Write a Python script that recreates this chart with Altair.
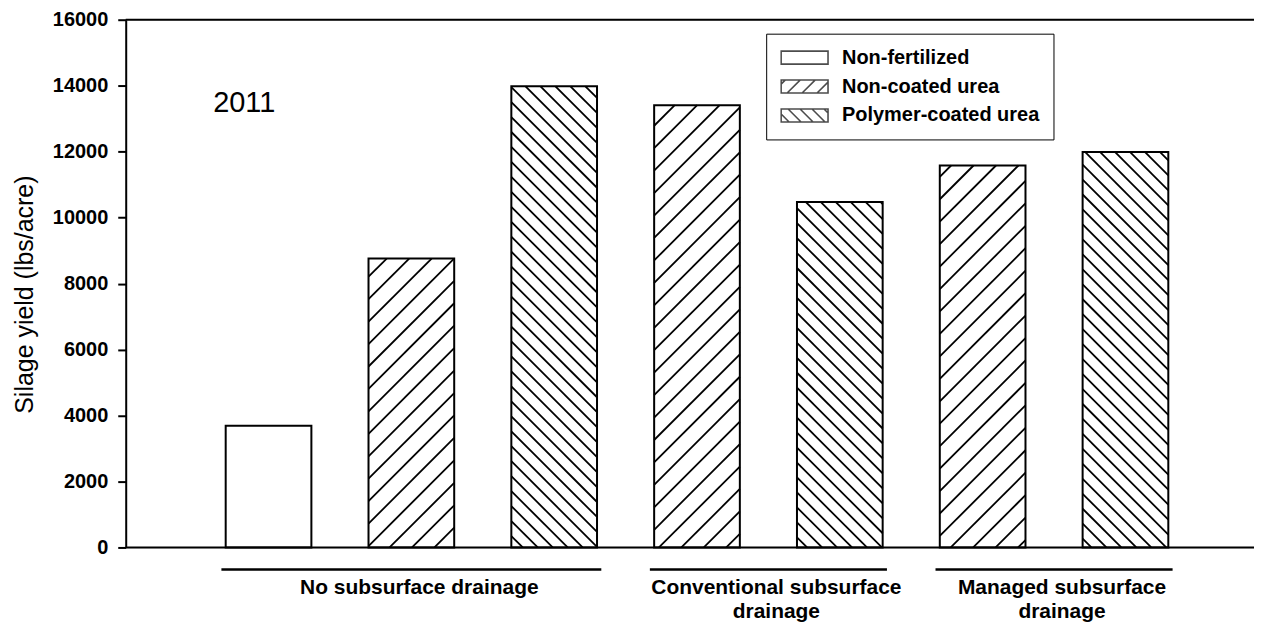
import math
import altair as alt
import pandas as pd

# ---------------- data ----------------
TREATMENTS = ["Non-fertilized", "Non-coated urea", "Polymer-coated urea"]
DRAINAGE_LABELS = ["No subsurface drainage",
                   "Conventional subsurface\ndrainage",
                   "Managed subsurface\ndrainage"]
BAR_DRAINAGE = [0, 0, 0, 1, 1, 2, 2]
BAR_TREATMENT = ["Non-fertilized", "Non-coated urea", "Polymer-coated urea",
                 "Non-coated urea", "Polymer-coated urea",
                 "Non-coated urea", "Polymer-coated urea"]
BAR_YIELD = [3690, 8760, 13980, 13410, 10470, 11580, 11990]
Y_TICKS = [0, 2000, 4000, 6000, 8000, 10000, 12000, 14000, 16000]
YEAR = "2011"

# ---------------- layout / style ----------------
FONT = "Liberation Sans"
W, H = 1131, 529
XMAX, YMAX = 7.9, 16000
PPU = W / XMAX
HALF = 0.3
HATCH = {"Non-coated urea": ("/", 22.5, 6.0),
         "Polymer-coated urea": ("\\", 15.0, 4.0)}
LEG_HATCH = {"Non-coated urea": ("/", 15.0, 4.0),
             "Polymer-coated urea": ("\\", 12.0, 2.0)}


def hatch(L, R, T, B, kind, spacing, phase):
    segs = []
    if kind == "/":          # px + py = c
        cmin, cmax = L + T, R + B
        c = phase + math.ceil((cmin - phase) / spacing) * spacing
        while c <= cmax:
            lo, hi = max(L, c - B), min(R, c - T)
            if hi - lo > 0.3:
                segs.append((lo, c - lo, hi, c - hi))
            c += spacing
    else:                    # px - py = c
        cmin, cmax = L - B, R - T
        c = phase + math.ceil((cmin - phase) / spacing) * spacing
        while c <= cmax:
            lo, hi = max(L, c + T), min(R, c + B)
            if hi - lo > 0.3:
                segs.append((lo, lo - c, hi, hi - c))
            c += spacing
    return segs


# bars table
bars = pd.DataFrame({
    "pos": [i + 1 for i in range(len(BAR_YIELD))],
    "treatment": BAR_TREATMENT,
    "yield": BAR_YIELD,
})
bars["xl"] = bars["pos"] - HALF
bars["xr"] = bars["pos"] + HALF
bars["base"] = 0

# hatch segments derived from bar values
rows = []
for _, r in bars.iterrows():
    if r["treatment"] not in HATCH:
        continue
    kind, sp, ph = HATCH[r["treatment"]]
    L, R = r["xl"] * PPU, r["xr"] * PPU
    T, B = H - r["yield"] / YMAX * H, H
    for (x1, y1, x2, y2) in hatch(L, R, T, B, kind, sp, ph):
        rows.append({"x1": x1 / PPU, "x2": x2 / PPU,
                     "y1": (H - y1) / H * YMAX, "y2": (H - y2) / H * YMAX})
hatch_df = pd.DataFrame(rows)

# group table
groups = []
for g, lab in enumerate(DRAINAGE_LABELS):
    ps = [i + 1 for i, d in enumerate(BAR_DRAINAGE) if d == g]
    groups.append({"label": lab, "start": min(ps) - 0.33, "end": max(ps) + 0.33,
                   "center": (min(ps) + max(ps)) / 2})
groups_df = pd.DataFrame(groups)

# legend symbol paths (unit square scaled by sqrt(size)/2)
SYM_W, SYM_H = 47.0, 13.0
u = SYM_W / 2
hh = SYM_H / 2 / u
paths = []
for t in TREATMENTS:
    p = f"M-1,{-hh:.4f}H1V{hh:.4f}H-1Z"
    if t in LEG_HATCH:
        kind, sp, ph = LEG_HATCH[t]
        for (x1, y1, x2, y2) in hatch(-u, u, -SYM_H / 2, SYM_H / 2, kind, sp, ph):
            p += f"M{x1/u:.4f},{y1/u:.4f}L{x2/u:.4f},{y2/u:.4f}"
    paths.append(p)

xscale = alt.Scale(domain=[0, XMAX], nice=False, zero=False)
yscale = alt.Scale(domain=[0, YMAX], nice=False)

yaxis = alt.Axis(values=Y_TICKS, format="d", grid=False,
                 labelFont=FONT, labelFontSize=20, labelFontWeight="bold",
                 labelColor="black", labelPadding=10,
                 tickSize=8, tickWidth=2, tickColor="black",
                 domainWidth=2, domainColor="black",
                 title="Silage yield (lbs/acre)", titleFont=FONT,
                 titleFontSize=25, titleFontWeight="normal", titleColor="black",
                 titlePadding=15, titleY=H * 0.52)


def Y(field):
    return alt.Y(field, scale=yscale, axis=yaxis)


def X(field):
    return alt.X(field, scale=xscale, axis=None)


base = alt.Chart(bars)

bars_fill = base.mark_rect(fill="white", strokeWidth=0).encode(
    x=X("xl:Q"), x2="xr:Q", y=Y("yield:Q"), y2="base:Q",
)

hatch_layer = alt.Chart(hatch_df).mark_rule(color="black", strokeWidth=1.8).encode(
    x=X("x1:Q"), x2="x2:Q", y=Y("y1:Q"), y2="y2:Q",
)

bars_outline = base.mark_rect(fillOpacity=0, stroke="black", strokeWidth=2).encode(
    x=X("xl:Q"), x2="xr:Q", y=Y("yield:Q"), y2="base:Q",
)

top_line = alt.Chart(pd.DataFrame({"v": [YMAX]})).mark_rule(color="black", strokeWidth=2).encode(
    y=Y("v:Q"))
bottom_line = alt.Chart(pd.DataFrame({"v": [0]})).mark_rule(color="black", strokeWidth=2).encode(
    y=Y("v:Q"))

group_lines = alt.Chart(groups_df).mark_rule(color="black", strokeWidth=2.5).encode(
    x=X("start:Q"), x2="end:Q", y=alt.value(H + 22),
)

group_text = alt.Chart(groups_df).mark_text(
    font=FONT, fontSize=21, fontWeight="bold", color="black",
    align="center", baseline="alphabetic", lineBreak="\n", lineHeight=24, dx=8,
).encode(
    x=X("center:Q"), y=alt.value(H + 47), text="label:N",
)

year_text = alt.Chart(pd.DataFrame({"t": [YEAR], "tx": [0.83], "ty": [13190]})).mark_text(
    font=FONT, fontSize=29, color="black", align="center", baseline="alphabetic",
).encode(
    x=X("tx:Q"), y=Y("ty:Q"), text="t:N",
)

legend_df = pd.DataFrame({"treatment": TREATMENTS, "lx": [1, 1, 1], "ly": [-50000] * 3})
legend_layer = alt.Chart(legend_df).mark_point(
    filled=False, color="black", clip=True, strokeWidth=1.6,
).encode(
    x=X("lx:Q"), y=Y("ly:Q"),
    shape=alt.Shape("treatment:N",
                    scale=alt.Scale(domain=TREATMENTS, range=paths),
                    legend=alt.Legend(
                        title=None, orient="none", legendX=642, legendY=14,
                        symbolSize=SYM_W * SYM_W, symbolStrokeWidth=1.6,
                        symbolStrokeColor="black", clipHeight=20,
                        labelFont=FONT, labelFontSize=20, labelFontWeight="bold",
                        labelColor="black", labelOffset=13, labelLimit=400,
                        rowPadding=9, padding=14, strokeColor="black",
                    )),
)

chart = alt.layer(
    bars_fill, hatch_layer, bars_outline, top_line, bottom_line,
    group_lines, group_text, year_text, legend_layer,
).properties(
    width=W, height=H,
    autosize=alt.AutoSizeParams(type="none"),
    padding={"left": 118, "top": 11, "right": 0, "bottom": 80},
).configure_view(stroke=None).configure_legend(
    strokeColor="black", strokeWidth=2,
).configure(background="white")

chart.save("out.html", embed_options={"renderer": "svg", "actions": False})
